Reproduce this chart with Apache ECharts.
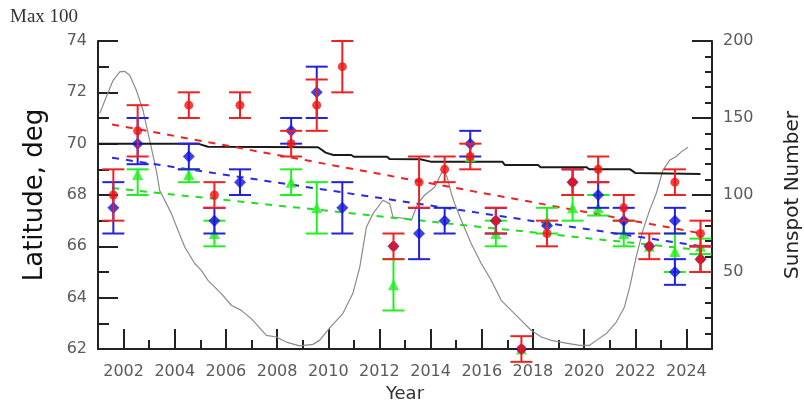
<!DOCTYPE html>
<html><head><meta charset="utf-8">
<script src="https://cdn.jsdelivr.net/npm/echarts@6/dist/echarts.min.js"></script>
<style>html,body{margin:0;padding:0;background:#fff}#c{width:804px;height:401px}</style>
</head><body><div id="c"></div>
<script>
// ---- Data ----
const majorYears = [2002,2004,2006,2008,2010,2012,2014,2016,2018,2020,2022,2024];
const minorYears = [2003,2005,2007,2009,2011,2013,2015,2017,2019,2021,2023];

const redYears = [2001.6,2002.55,2004.55,2005.55,2006.55,2008.55,2009.55,2010.55,2012.55,2013.55,2014.55,2015.55,2016.55,2017.55,2018.55,2019.55,2020.55,2021.55,2022.55,2023.55,2024.55,2024.55];
const redVals  = [68,70.5,71.5,68,71.5,70,71.5,73,66,68.5,69,69.5,67,62,66.5,68.5,69,67.5,66,68.5,66.5,65.5];
const redLow   = [67,69.5,71,67.5,71,69.5,70.5,72,65.5,67.5,68.5,69,66.5,61.5,66,68,68.5,67,65.5,68,66,65];
const redHigh  = [69,71.5,72,68.5,72,70.5,72.5,74,66.5,69.5,69.5,70,67.5,62.5,67,69,69.5,68,66.5,69,67,66];

const blueYears = [2001.6,2002.55,2004.55,2005.55,2006.55,2008.55,2009.55,2010.55,2012.55,2013.55,2014.55,2015.55,2016.55,2017.55,2018.55,2019.55,2020.55,2021.55,2022.55,2023.55,2023.55,2024.55];
const blueVals  = [67.5,70,69.5,67,68.5,70.5,72,67.5,66,66.5,67,70,67,62,66.8,68.5,68,67,66,67,65,65.5];
const blueLow   = [66.5,69.2,69,66.5,68,70,71,66.5,66,65.5,66.5,69.5,66.5,62,66.8,68,67.5,66.5,66,66.5,64.5,65];
const blueHigh  = [68.5,71,70,67.5,69,71,73,68.5,66,67.5,67.5,70.5,67.5,62,66.8,69,68.5,67.5,66,67.5,65.5,66];

const greenYears = [2002.55,2004.55,2005.55,2008.55,2009.55,2012.55,2015.55,2016.55,2017.55,2018.55,2019.55,2020.55,2021.55,2022.55,2023.55,2024.55];
const greenVals  = [68.8,68.8,66.5,68.5,67.5,64.5,69.5,66.5,62,67,67.5,67.5,66.5,66,65.8,66];
const greenLow   = [68,68.5,66,68,66.5,63.5,69.5,66,62,66.5,67,67.2,66,66,65,65.7];
const greenHigh  = [69,69,67,69,68.5,65.5,69.5,67,62,67.5,68,68,67,66,66.5,66.3];

// linear trend lines (start / end)
const trendYears = [2001.55, 2024.6];
const redTrend   = [70.75, 66.5];
const blueTrend  = [69.45, 66.0];
const greenTrend = [68.27, 65.85];

// black reference line
const blackYears = [2001,2004.9,2005.3,2009.6,2009.9,2010.2,2010.9,2011.0,2012.3,2012.4,2013.6,2014.0,2016.8,2016.9,2018.2,2018.3,2020.1,2020.2,2021.8,2022.0,2024.55];
const blackVals  = [70.0,70.0,69.88,69.86,69.65,69.56,69.56,69.49,69.49,69.4,69.39,69.3,69.3,69.17,69.17,69.08,69.08,69.0,69.0,68.86,68.82];

// smoothed sunspot number (right axis)
const ssnYears = [2001.07,2001.33,2001.59,2001.85,2002.04,2002.24,2002.5,2002.76,2003.02,2003.28,2003.41,2003.61,2003.87,2004.13,2004.39,2004.78,2005.04,2005.3,2005.82,2006.21,2006.6,2006.99,2007.58,2007.97,2008.36,2008.88,2009.4,2009.66,2010.05,2010.57,2010.96,2011.23,2011.49,2011.75,2012.14,2012.4,2012.53,2013.05,2013.25,2013.5,2013.77,2014.16,2014.42,2014.55,2014.68,2014.81,2014.94,2015.2,2015.59,2015.98,2016.37,2016.76,2017.28,2017.94,2018.33,2018.72,2019.24,2019.83,2020.22,2020.48,2020.87,2021.26,2021.58,2021.78,2022.04,2022.3,2022.56,2022.82,2023.08,2023.34,2023.6,2023.8,2024.06];
const ssnVals  = [153,164,174.5,180,180.3,177.7,168,155,135.5,116,103,96.6,87.9,77,66.2,55.5,51.1,44.6,36,28.4,25.1,19.7,8.9,7.8,4.5,2,3,5.6,13.5,23,36,53,79,87.9,96.6,94.4,85.7,84.7,83.6,94.4,100,105,114,116,109.5,101,94.4,83.6,68.4,55.5,44.6,31.6,23,12,7.8,5.6,4,2.4,2.4,5.6,10,17.5,27.3,40,60,77,90,101,116,122.5,125,128,131];

// ---- Build ----
const zip = (a,b) => a.map((v,i)=>[v,b[i]]);
const zip3 = (a,b,c) => a.map((v,i)=>[v,b[i],c[i]]);

function errRender(color){
  return function(params, api){
    const x = api.value(0), lo = api.value(1), hi = api.value(2);
    if (lo === hi) return {type:'group', children:[]};
    const pLo = api.coord([x, lo]);
    const pHi = api.coord([x, hi]);
    const w = 11;
    const st = {stroke: color, lineWidth: 2};
    return {type:'group', children:[
      {type:'line', shape:{x1:pLo[0],y1:pLo[1],x2:pHi[0],y2:pHi[1]}, style:st},
      {type:'line', shape:{x1:pLo[0]-w,y1:pLo[1],x2:pLo[0]+w,y2:pLo[1]}, style:st},
      {type:'line', shape:{x1:pHi[0]-w,y1:pHi[1],x2:pHi[0]+w,y2:pHi[1]}, style:st}
    ]};
  };
}

const FONT = 'DejaVu Sans';
const axisCol = '#222';
const labCol = '#5a5a5a';

const chart = echarts.init(document.getElementById('c'), null, {renderer:'canvas'});
chart.setOption({
  animation: false,
  backgroundColor: '#fff',
  grid: {left: 98, right: 92, top: 41, bottom: 52, containLabel: false, outerBoundsMode: 'none'},
  graphic: [{type:'text', left: 10, top: 8, style:{text:'Max 100', font:'19px "Liberation Serif"', fill:'#333'}}],
  xAxis: [{
    type:'value', min:2001, max:2025,
    name:'Year', nameLocation:'middle', nameGap:28,
    nameTextStyle:{fontFamily:FONT, fontSize:18, color:'#333'},
    axisLine:{show:true, onZero:false, lineStyle:{color:axisCol, width:2}},
    axisTick:{show:true, inside:true, length:20, customValues: majorYears, lineStyle:{color:axisCol, width:2}},
    axisLabel:{show:true, customValues: majorYears, margin:15, fontFamily:FONT, fontSize:16, color:labCol,
      formatter: v => String(v)},
    splitLine:{show:false}
  },{
    type:'value', min:2001, max:2025, position:'bottom',
    axisLine:{show:false},
    axisTick:{show:true, inside:true, length:9, customValues: minorYears, lineStyle:{color:axisCol, width:2}},
    axisLabel:{show:false},
    splitLine:{show:false}
  }],
  yAxis: [{
    type:'value', min:62, max:74, interval:2, position:'left',
    name:'Latitude, deg', nameLocation:'middle', nameRotate:90, nameGap:50,
    nameTextStyle:{fontFamily:FONT, fontSize:26, color:'#111'},
    axisLine:{show:true, lineStyle:{color:axisCol, width:2}},
    axisTick:{show:true, inside:true, length:20, lineStyle:{color:axisCol, width:2}},
    minorTick:{show:true, splitNumber:2, length:11, lineStyle:{color:axisCol, width:2}},
    axisLabel:{margin:11, fontFamily:FONT, fontSize:16, color:labCol},
    splitLine:{show:false}
  },{
    type:'value', min:0, max:200, interval:50, position:'right',
    name:'Sunspot Number', nameLocation:'middle', nameRotate:90, nameGap:71,
    nameTextStyle:{fontFamily:FONT, fontSize:20, color:'#222'},
    axisLine:{show:true, lineStyle:{color:axisCol, width:2}},
    axisTick:{show:true, inside:true, length:20, lineStyle:{color:axisCol, width:2}},
    minorTick:{show:true, splitNumber:5, length:7, lineStyle:{color:axisCol, width:2}},
    axisLabel:{margin:11, fontFamily:FONT, fontSize:16, color:labCol,
      formatter: v => (v === 0 ? '' : String(v))},
    splitLine:{show:false}
  }],
  series: [
    {type:'line', yAxisIndex:1, data: zip(ssnYears, ssnVals), showSymbol:false, symbol:'none',
     lineStyle:{color:'#8a8a8a', width:1.2}, z:1},
    {type:'line', data: zip(blackYears, blackVals), showSymbol:false, symbol:'none',
     lineStyle:{color:'#1a1a1a', width:2}, z:2},
    {type:'line', data: zip(trendYears, greenTrend), showSymbol:false, symbol:'none',
     lineStyle:{color:'#22dd22', width:2, type:[7,7]}, z:2},
    {type:'line', data: zip(trendYears, blueTrend), showSymbol:false, symbol:'none',
     lineStyle:{color:'#2a2ae0', width:2, type:[7,7]}, z:2},
    {type:'line', data: zip(trendYears, redTrend), showSymbol:false, symbol:'none',
     lineStyle:{color:'#ee2222', width:2, type:[7,7]}, z:2},
    {type:'custom', renderItem: errRender('#22ee22'), data: zip3(greenYears, greenLow, greenHigh), z:3, clip:false},
    {type:'scatter', data: zip(greenYears, greenVals), symbol:'triangle', symbolSize:11, itemStyle:{color:'#22ee22'}, z:4},
    {type:'custom', renderItem: errRender('#2222dd'), data: zip3(blueYears, blueLow, blueHigh), z:5, clip:false},
    {type:'scatter', data: zip(blueYears, blueVals), symbol:'diamond', symbolSize:12, itemStyle:{color:'#1111dd'}, z:6},
    {type:'custom', renderItem: errRender('#ee2222'), data: zip3(redYears, redLow, redHigh), z:7, clip:false},
    {type:'scatter', data: zip(redYears, redVals), symbol:'circle', symbolSize:9, itemStyle:{color:'#ee1111'}, z:8}
  ]
});
</script>
</body></html>
